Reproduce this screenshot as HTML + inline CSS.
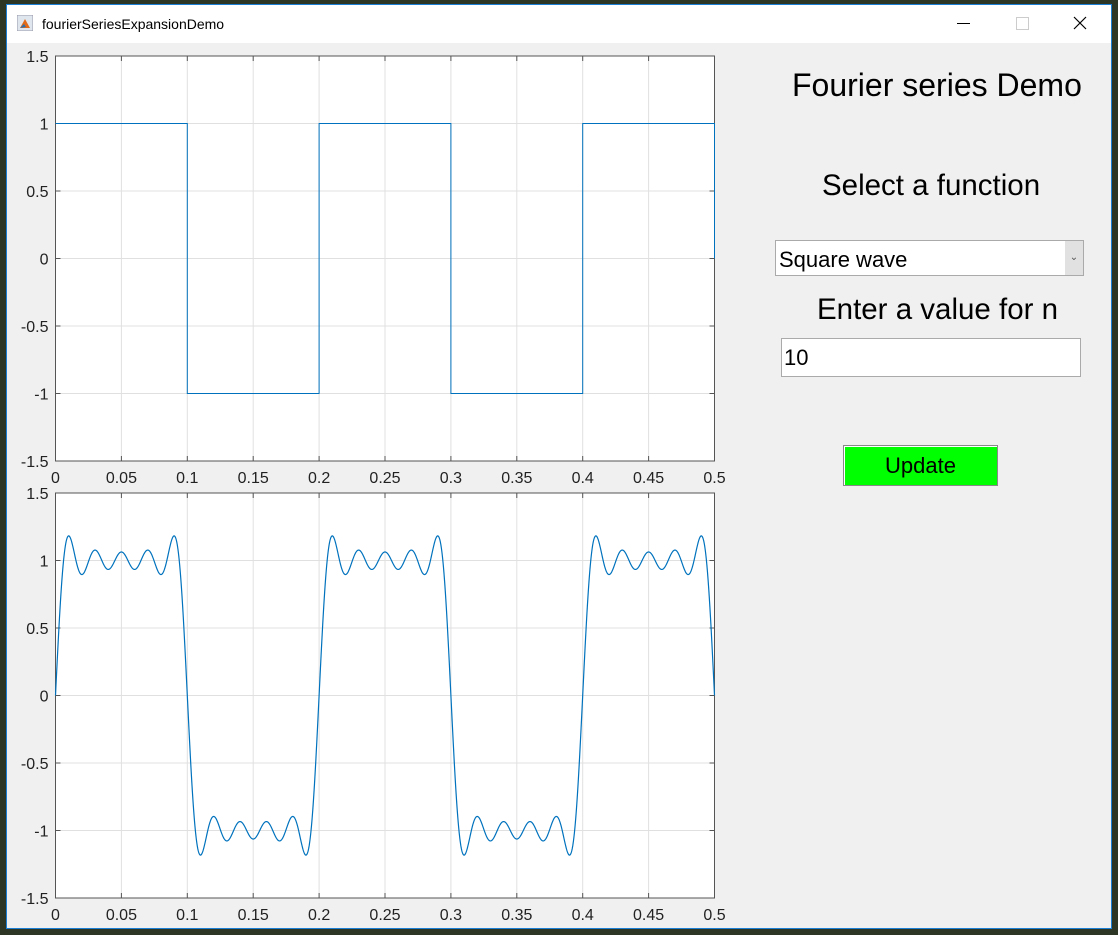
<!DOCTYPE html>
<html><head><meta charset="utf-8"><style>
body{margin:0;width:1118px;height:935px;background:#2d3524;position:relative;overflow:hidden;font-family:"Liberation Sans",Arial,sans-serif}
#win{position:absolute;left:6px;top:4px;width:1104px;height:923px;border:1px solid #1a7fd4;background:#f0f0f0}
#title{position:absolute;left:0;top:0;width:1104px;height:38px;background:#fff}
.abs{position:absolute}
</style></head><body>
<div id="win">
<div id="title">
 <svg class="abs" style="left:10px;top:10px" width="16" height="16"><rect x="0" y="0" width="16" height="16" fill="#dfe6ee" stroke="#99a"/><path d="M3 13 L8 4 L13 13 Z" fill="#e06a1a"/><path d="M3 13 L7 9 L9 12Z" fill="#2a6fb0"/></svg>
 <div class="abs" style="left:35px;top:11px;font-size:14px;color:#000">fourierSeriesExpansionDemo</div>
 <div class="abs" style="left:950px;top:18px;width:13px;height:1px;background:#000"></div>
 <div class="abs" style="left:1009px;top:12px;width:11px;height:11px;border:1px solid #ccc"></div>
 <svg class="abs" style="left:1066px;top:11px" width="14" height="14"><path d="M1 1L13 13M13 1L1 13" stroke="#000" stroke-width="1.2"/></svg>
</div>
</div>
<svg id="plots" class="abs" style="left:0;top:0" width="1118" height="935"></svg>
<div class="abs" style="left:792px;top:67px;font-size:32px">Fourier series Demo</div>
<div class="abs" style="left:822px;top:169px;font-size:29.5px">Select a function</div>
<div class="abs" style="left:775px;top:240px;width:309px;height:36px;background:#fff;border:1px solid #aaa;box-sizing:border-box">
 <div class="abs" style="left:3px;top:6px;font-size:22px">Square wave</div>
 <div class="abs" style="right:0;top:0;width:18px;height:34px;background:#e1e1e1;font-size:10px;text-align:center;line-height:34px;color:#555">&#8964;</div>
</div>
<div class="abs" style="left:817px;top:293px;font-size:29.5px">Enter a value for n</div>
<div class="abs" style="left:781px;top:338px;width:300px;height:39px;background:#fff;border:1px solid #aaa;box-sizing:border-box;font-size:22px;padding:6px 2px">10</div>
<div class="abs" style="left:843px;top:445px;width:155px;height:41px;background:#00ff00;border:1px solid #888;box-shadow:inset 1px 1px #fff;box-sizing:border-box;font-size:22px;text-align:center;line-height:39px">Update</div>
<script>
const xTicks=[0,0.05,0.1,0.15,0.2,0.25,0.3,0.35,0.4,0.45,0.5];
const xTickLabels=["0","0.05","0.1","0.15","0.2","0.25","0.3","0.35","0.4","0.45","0.5"];
const yTicks=[-1.5,-1,-0.5,0,0.5,1,1.5];
const yTickLabels=["-1.5","-1","-0.5","0","0.5","1","1.5"];
const squareX=[0,0.1,0.1,0.2,0.2,0.3,0.3,0.4,0.4,0.5,0.5];
const squareY=[1,1,-1,-1,1,1,-1,-1,1,1,0];
const harmonics=[1,3,5,7,9];
const coefficients=[1.2732,0.4244,0.2546,0.1819,0.1415];
const period=0.2;
const NS="http://www.w3.org/2000/svg";
const svg=document.getElementById('plots');
function mk(t,a,p){const e=document.createElementNS(NS,t);for(const k in a)e.setAttribute(k,a[k]);(p||svg).appendChild(e);return e;}
function axes(top,name){
 const L=55.5,R=714.5,T=top,B=top+405;
 const sx=v=>L+(v-0)/(0.5)*(R-L), sy=v=>B-(v+1.5)/3*(B-T);
 const g=mk('g',{});
 
 
 const bg=mk('rect',{x:L,y:T,width:R-L,height:B-T,fill:'#fff'},g);
 
 
 xTicks.forEach((v,i)=>{const x=sx(v);
  mk('line',{x1:x,x2:x,y1:T,y2:B,stroke:'#e0e0e0'},g);
  mk('line',{x1:x,x2:x,y1:B,y2:B-5,stroke:'#555'},g);mk('line',{x1:x,x2:x,y1:T,y2:T+5,stroke:'#555'},g);
  const t=mk('text',{x:x,y:B+22,'font-size':16,'text-anchor':'middle',fill:'#222'},g);t.textContent=xTickLabels[i];
  
  });
 yTicks.forEach((v,i)=>{const y=sy(v);
  mk('line',{x1:L,x2:R,y1:y,y2:y,stroke:'#e0e0e0'},g);
  mk('line',{x1:L,x2:L+5,y1:y,y2:y,stroke:'#555'},g);mk('line',{x1:R,x2:R-5,y1:y,y2:y,stroke:'#555'},g);
  const t=mk('text',{x:L-7,y:y+6,'font-size':16,'text-anchor':'end',fill:'#222'},g);t.textContent=yTickLabels[i];
  
  });
 mk('rect',{x:L,y:T,width:R-L,height:B-T,fill:'none',stroke:'#555'},g);
 return {sx,sy,g};
}
const a1=axes(56,'square-wave-axes');
let d='';squareX.forEach((x,i)=>{d+=(i?'L':'M')+a1.sx(x)+' '+a1.sy(squareY[i]);});
const l1=mk('path',{d:d,fill:'none',stroke:'#0072bd','stroke-width':1},a1.g);


const a2=axes(493,'fourier-series-axes');
d='';for(let i=0;i<=2000;i++){const x=0.5*i/2000;let y=0;harmonics.forEach((h,k)=>{y+=coefficients[k]*Math.sin(2*Math.PI*h*x/period);});d+=(i?'L':'M')+a2.sx(x).toFixed(2)+' '+a2.sy(y).toFixed(2);}
const l2=mk('path',{d:d,fill:'none',stroke:'#0072bd','stroke-width':1.2},a2.g);


</script>
</body></html>
